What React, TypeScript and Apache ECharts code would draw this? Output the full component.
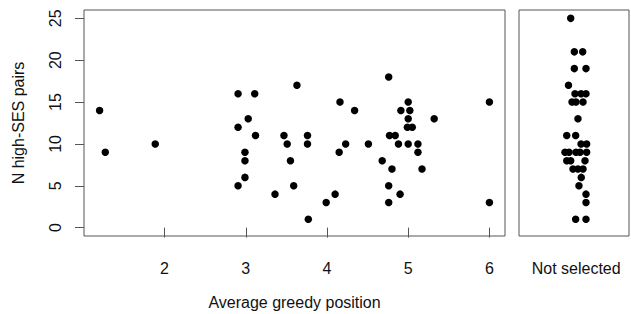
import React, { useEffect, useRef } from "react";
import * as echarts from "echarts";

// Left panel: average greedy position vs N high-SES pairs
const greedyX = [
  1.2, 1.27, 1.885, 2.905, 3.11, 3.03, 2.905, 3.12, 2.99, 2.99, 2.99, 2.905, 3.36,
  3.47, 3.51, 3.55, 3.59, 3.63, 3.76, 3.76, 3.77, 3.99, 4.1, 4.16, 4.15, 4.23, 4.34,
  4.51, 4.68, 4.76, 4.76, 4.76, 4.77, 4.84, 4.8, 4.88, 4.9, 4.91, 5.0, 5.02, 5.0,
  4.99, 5.05, 5.0, 5.12, 5.12, 5.17, 5.32, 6.0, 6.0,
];
const greedyY = [
  14, 9, 10, 16, 16, 13, 12, 11, 9, 8, 6, 5, 4,
  11, 10, 8, 5, 17, 11, 10, 1, 3, 4, 15, 9, 10, 14,
  10, 8, 18, 5, 3, 11, 11, 7, 10, 4, 14, 15, 14, 13,
  12, 12, 10, 10, 9, 7, 13, 15, 3,
];

// Right panel: not selected (stripchart with jitter)
const notSelectedY = [
  25, 21, 21, 19, 19, 17, 16, 16, 16, 15, 15, 15, 13, 11, 11, 10, 10,
  9, 9, 9, 9, 9, 8, 8, 8, 7, 7, 7, 6, 5, 4, 3, 1, 1,
];
const notSelectedJitter = [
  -0.03, 0.003, 0.079, 0.003, 0.109, -0.05, 0.009, 0.064, 0.109, -0.018, 0.018, 0.082,
  0.036, -0.066, 0.015, 0.064, 0.115, -0.082, -0.045, 0.018, 0.055, 0.115, -0.066, -0.03,
  0.1, -0.009, 0.036, 0.082, 0.066, 0.045, 0.109, 0.109, 0.015, 0.109,
];

const xTicks = [2, 3, 4, 5, 6];
const yTicks = [0, 5, 10, 15, 20, 25];
const categoryLabel = "Not selected";
const xTitle = "Average greedy position";
const yTitle = "N high-SES pairs";

export default function App() {
  const ref = useRef<HTMLDivElement>(null);

  useEffect(() => {
    document.body.style.margin = "0";
    if (!ref.current) return;
    const chart = echarts.init(ref.current, null, { renderer: "svg" });
    const font = "Liberation Sans, Arial, sans-serif";
    const boxColor = "#555";
    const textColor = "#111";

    const leftData = greedyX.map((x, i) => [x, greedyY[i]]);
    const rightData = notSelectedY.map((y, i) => [1 + notSelectedJitter[i], y]);

    chart.setOption({
      animation: false,
      backgroundColor: "#fff",
      textStyle: { fontFamily: font },
      grid: [
        { left: 84, top: 10, width: 421, height: 226, show: true, borderColor: boxColor, borderWidth: 1, backgroundColor: "transparent", containLabel: false, outerBoundsMode: "none" },
        { left: 519, top: 10, width: 110, height: 226, show: true, borderColor: boxColor, borderWidth: 1, backgroundColor: "transparent", containLabel: false, outerBoundsMode: "none" },
      ],
      xAxis: [
        {
          gridIndex: 0,
          type: "value",
          min: 1.008,
          max: 6.192,
          splitLine: { show: false },
          axisLine: { show: false },
          axisTick: { show: true, length: 10, customValues: xTicks, lineStyle: { color: boxColor } },
          axisLabel: { customValues: xTicks, fontSize: 16, color: textColor, margin: 24, fontFamily: font },
          name: xTitle,
          nameLocation: "middle",
          nameGap: 58,
          nameTextStyle: { fontSize: 16, color: textColor, fontFamily: font },
        },
        {
          gridIndex: 1,
          type: "value",
          min: 0.5,
          max: 1.5,
          splitLine: { show: false },
          axisLine: { show: false },
          axisTick: { show: false },
          axisLabel: {
            customValues: [1.02],
            formatter: () => categoryLabel,
            fontSize: 16,
            color: textColor,
            margin: 24,
            fontFamily: font,
          },
        },
      ],
      yAxis: [
        {
          gridIndex: 0,
          type: "value",
          min: -1,
          max: 26,
          splitLine: { show: false },
          axisLine: { show: false },
          axisTick: { show: true, length: 9, customValues: yTicks, lineStyle: { color: boxColor } },
          axisLabel: { customValues: yTicks, rotate: 90, fontSize: 16, color: textColor, margin: 21, fontFamily: font },
          name: yTitle,
          nameLocation: "middle",
          nameGap: 58,
          nameTextStyle: { fontSize: 16, color: textColor, fontFamily: font },
        },
        {
          gridIndex: 1,
          type: "value",
          min: -1,
          max: 26,
          splitLine: { show: false },
          axisLine: { show: false },
          axisTick: { show: false },
          axisLabel: { show: false },
        },
      ],
      series: [
        {
          type: "scatter",
          xAxisIndex: 0,
          yAxisIndex: 0,
          data: leftData,
          symbol: "circle",
          symbolSize: 7.5,
          itemStyle: { color: "#000", opacity: 1 },
        },
        {
          type: "scatter",
          xAxisIndex: 1,
          yAxisIndex: 1,
          data: rightData,
          symbol: "circle",
          symbolSize: 7.5,
          itemStyle: { color: "#000", opacity: 1 },
        },
      ],
    });
    return () => chart.dispose();
  }, []);

  return <div ref={ref} style={{ width: 631, height: 314 }} />;
}
